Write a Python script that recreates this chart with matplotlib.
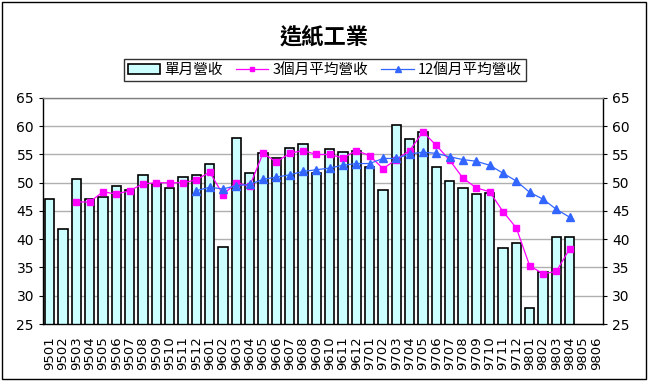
import matplotlib
matplotlib.use("Agg")
import matplotlib.pyplot as plt
from matplotlib.patches import Rectangle
import numpy as np

plt.rcParams['font.family'] = ['Noto Sans CJK TC', 'DejaVu Sans']

months = ['9501', '9502', '9503', '9504', '9505', '9506', '9507', '9508', '9509', '9510',
          '9511', '9512', '9601', '9602', '9603', '9604', '9605', '9606', '9607', '9608',
          '9609', '9610', '9611', '9612', '9701', '9702', '9703', '9704', '9705', '9706',
          '9707', '9708', '9709', '9710', '9711', '9712', '9801', '9802', '9803', '9804',
          '9805', '9806']

# monthly revenue (9501 - 9804)
monthly = [47.1, 41.9, 50.6, 47.1, 47.4, 49.5, 48.7, 51.3, 49.8, 49.0,
           51.0, 51.3, 53.3, 38.6, 57.9, 51.8, 55.2, 54.3, 56.1, 56.8,
           51.7, 55.9, 55.4, 55.7, 52.8, 48.8, 60.2, 57.7, 58.9, 52.7,
           50.3, 49.0, 48.0, 48.1, 38.4, 39.3, 27.8, 34.2, 40.4, 40.4]

# 3-month average (starts 9503)
avg3 = [46.6, 46.6, 48.4, 48.0, 48.6, 49.8, 50.0, 50.0, 50.0, 50.5,
        51.9, 47.9, 50.0, 49.4, 55.2, 53.7, 55.2, 55.7, 55.0, 55.0,
        54.4, 55.7, 54.8, 52.5, 54.1, 55.7, 59.0, 56.6, 54.0, 50.8,
        49.1, 48.4, 44.9, 42.0, 35.3, 33.9, 34.3, 38.3]

# 12-month average (starts 9512)
avg12 = [48.6, 49.2, 48.9, 49.5, 49.7, 50.6, 51.0, 51.4, 52.0, 52.3,
         52.6, 53.1, 53.4, 53.4, 54.3, 54.3, 55.1, 55.4, 55.2, 54.6,
         54.1, 53.8, 53.1, 51.7, 50.3, 48.3, 47.1, 45.3, 43.9]

fig = plt.figure(figsize=(6.48, 3.81), dpi=100)
ax = fig.add_axes([43/648, 57/381, 560/648, 226/381])

x = np.arange(len(months))
bars = ax.bar(x[:len(monthly)], monthly, width=0.68, color='#CCFFFF',
              edgecolor='black', linewidth=1.2, label='單月營收', zorder=2)
x3 = x[2:2 + len(avg3)]
l3, = ax.plot(x3, avg3, color='#FF00FF', lw=0.9, marker='s', ms=5,
              label='3個月平均營收', zorder=3)
x12 = x[11:11 + len(avg12)]
l12, = ax.plot(x12, avg12, color='#3366FF', lw=0.9, marker='^', ms=5.5,
               label='12個月平均營收', zorder=3)

ax.set_xlim(-0.5, len(months) - 0.5)
ax.set_ylim(25, 65)
ax.set_yticks(range(25, 70, 5))
ax.yaxis.grid(True, color='#b0b0b0', lw=1, zorder=0)
ax.set_axisbelow(True)
ax.set_xticks(x)
ax.set_xticklabels(months, rotation=90, fontsize=9.5, family='DejaVu Sans')
ax.tick_params(axis='x', length=0, pad=9)
ax.tick_params(axis='y', labelsize=10, length=3, direction='out')
ax.tick_params(axis='y', which='both', labelright=True, right=True)
for lab in ax.get_yticklabels() + ax.get_yticklabels(which='both'):
    lab.set_family('DejaVu Sans')
for s in ax.spines.values():
    s.set_linewidth(1)
ax.spines['top'].set_color('#808080')

fig.text(0.5, 1 - 37/381, '造紙工業', ha='center', va='center',
         fontsize=16, fontweight='bold')

leg = fig.legend([bars, l3, l12], ['單月營收', '3個月平均營收', '12個月平均營收'],
                 loc='center', bbox_to_anchor=(325/648, 1 - 70/381), ncol=3,
                 fontsize=10.5, frameon=True, fancybox=False, edgecolor='black',
                 handlelength=2.2, handletextpad=0.3, columnspacing=0.9,
                 borderpad=0.25, markerscale=0.7)
leg.get_frame().set_linewidth(1)

fig.patches.append(Rectangle((0.003, 0.006), 0.994, 0.99, transform=fig.transFigure,
                             fill=False, edgecolor='black', lw=1))

fig.savefig('out.png', dpi=100)
